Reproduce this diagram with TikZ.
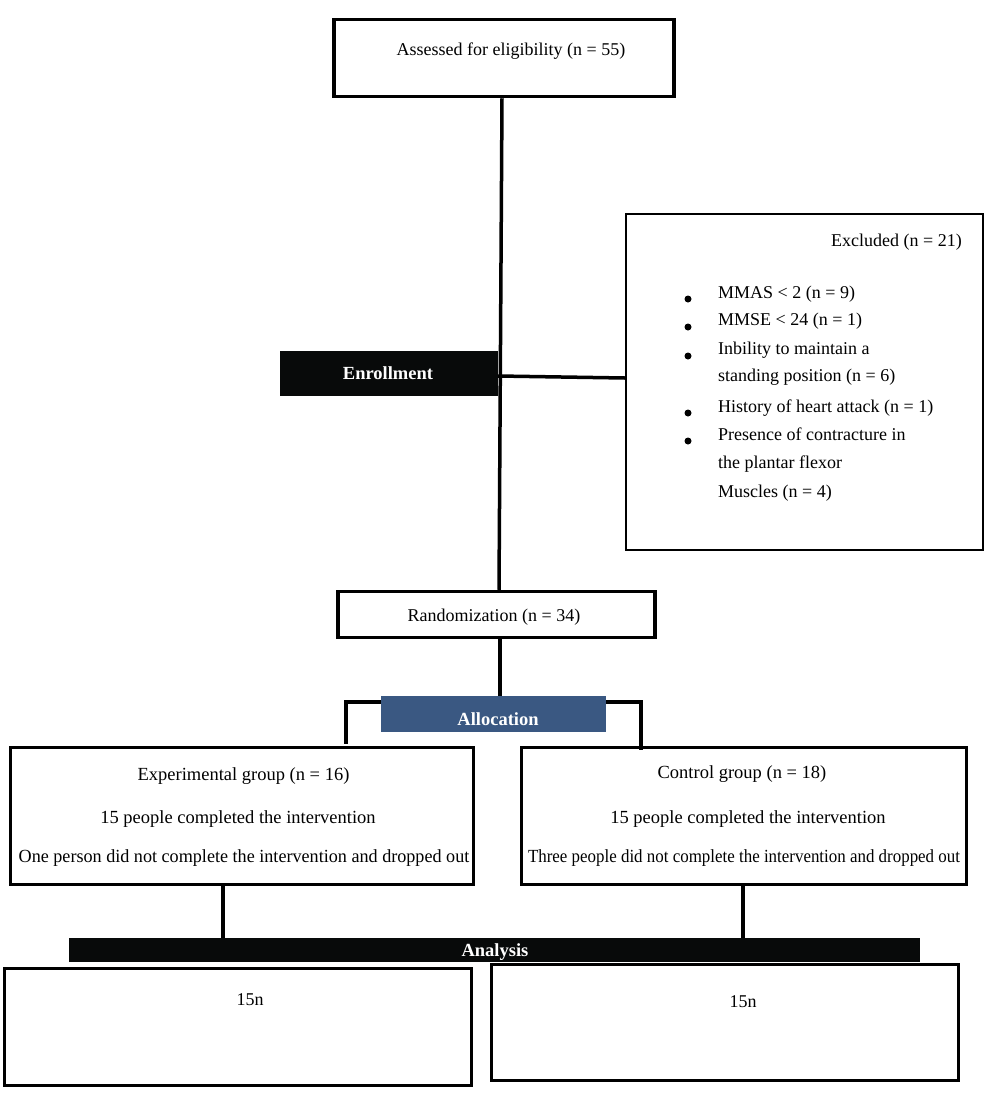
\documentclass[tikz,border=0pt]{standalone}
\usepackage{fontspec}
\setmainfont{Liberation Serif}
\usetikzlibrary{calc}
\definecolor{allocblue}{RGB}{58,88,130}
\definecolor{barblack}{RGB}{8,10,10}
\begin{document}
\begin{tikzpicture}[x=1pt,y=-1pt,
  font=\fontsize{18}{22}\selectfont,
  frame/.style={draw=black, line width=#1, fill=white, inner sep=0pt},
  frame/.default=3.5pt,
  txt/.style={inner sep=0pt, text height=13pt, text depth=3pt},
  grp/.style={txt, font=\fontsize{18.5}{22}\selectfont},
  band/.style={inner sep=0pt, text=white, font=\fontsize{18.5}{22}\selectfont\bfseries},
  conn/.style={line width=3.5pt, black},
  bullet/.style={circle, fill=black, inner sep=0pt, minimum size=7pt}]
\useasboundingbox (0,0) rectangle (1000,1106);
\fill[white] (0,0) rectangle (1000,1106);

% boxes
\node[frame=3.5pt, minimum width=340pt, minimum height=77pt] (assess) at (504,58) {};
\node[frame=2pt, minimum width=357pt, minimum height=336pt] (excl) at (804.5,382) {};
\node[band, fill=barblack, minimum width=218pt, minimum height=45pt] (enroll) at (389,373.5) {};
\node[frame=3.5pt, minimum width=317pt, minimum height=46pt] (rand) at (496.5,614.5) {};
\node[band, fill=allocblue, minimum width=225pt, minimum height=36pt] (alloc) at (493.5,714) {};
\node[frame=3.5pt, minimum width=463pt, minimum height=137pt] (exp) at (242,816) {};
\node[frame=3.5pt, minimum width=445pt, minimum height=137pt] (ctrl) at (744,816) {};
\node[band, fill=barblack, minimum width=851pt, minimum height=24pt] (anal) at (494.5,950) {};
\node[frame=3.5pt, minimum width=467pt, minimum height=117pt] (res1) at (238,1027) {};
\node[frame=3.5pt, minimum width=467pt, minimum height=116pt] (res2) at (725,1022.5) {};

% connectors
\coordinate (topA) at ($(assess.south)+(-2,0)$);
\coordinate (botA) at ($(rand.north)+(2.5,0)$);
\draw[conn] (topA) -- (botA);
\draw[conn] (enroll.east |- 0,376) -- (excl.west |- 0,378);
\coordinate (randB) at ($(rand.south)+(3.5,0)$);
\draw[conn] (randB) -- (randB |- alloc.north);
\coordinate (lbend) at (346,702);
\coordinate (lend) at (346,744);
\coordinate (rbend) at (641,702);
\coordinate (rend) at (641,750);
\draw[conn] (alloc.west |- lbend) -- (lbend) -- (lend);
\draw[conn] (alloc.east |- rbend) -- (rbend) -- (rend);
\coordinate (expd) at (223,886);
\coordinate (ctrld) at (743,886);
\draw[conn] (expd) -- (expd |- anal.north);
\draw[conn] (ctrld) -- (ctrld |- anal.north);

% texts
\node[txt] (tassess) at (511,50) {Assessed for eligibility (n = 55)};
\node[band] (tenroll) at (388,373) {Enrollment};
\node[txt, anchor=west] (texcl) at (831,241) {Excluded (n = 21)};
\node[txt, anchor=west] (e1) at (718,293) {MMAS < 2 (n = 9)};
\node[txt, anchor=west] (e2) at (718,320) {MMSE < 24 (n = 1)};
\node[txt, anchor=west] (e3) at (718,349) {Inbility to maintain a};
\node[txt, anchor=west] (e3b) at (718,376) {standing position (n = 6)};
\node[txt, anchor=west] (e4) at (718,407) {History of heart attack (n = 1)};
\node[txt, anchor=west] (e5) at (718,435) {Presence of contracture in};
\node[txt, anchor=west] (e5b) at (718,463) {the plantar flexor};
\node[txt, anchor=west] (e5c) at (718,492) {Muscles (n = 4)};
\node[bullet] (b1) at (688,299) {};
\node[bullet] (b2) at (688,327) {};
\node[bullet] (b3) at (688,356) {};
\node[bullet] (b4) at (688,413) {};
\node[bullet] (b5) at (688,441) {};
\node[txt] (trand) at (494,616) {Randomization (n = 34)};
\node[band] (talloc) at (498,719) {Allocation};
\node[grp] (texp1) at (243.5,775) {Experimental group (n = 16)};
\node[grp] (texp2) at (238,818) {15 people completed the intervention};
\node[grp] (texp3) at (244,857) {\scalebox{0.98}[1]{One person did not complete the intervention and dropped out}};
\node[grp] (tctrl1) at (742,773) {Control group (n = 18)};
\node[grp] (tctrl2) at (748,818) {15 people completed the intervention};
\node[grp] (tctrl3) at (744,857) {\scalebox{0.915}[1]{Three people did not complete the intervention and dropped out}};
\node[band] (tanal) at (495,952.5) {Analysis};
\node[txt] (tres1) at (250,1000) {15n};
\node[txt] (tres2) at (743,1002) {15n};
\end{tikzpicture}
\end{document}
